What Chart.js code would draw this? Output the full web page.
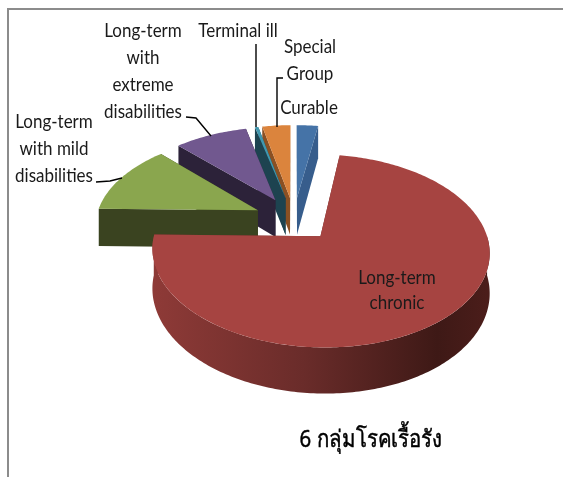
<!DOCTYPE html>
<html lang="th">
<head>
<meta charset="UTF-8">
<title>6 กลุ่มโรคเรื้อรัง</title>
<script src="https://cdn.jsdelivr.net/npm/chart.js"></script>
<style>
  html, body { margin: 0; padding: 0; background: #fff; }
  #wrap { width: 563px; height: 477px; }
</style>
</head>
<body>
<div id="wrap"><canvas id="pie" width="563" height="477"></canvas></div>
<script>
// values (share of the pie, in %)
const categories = ['Curable', 'Long-term chronic', 'Long-term with mild disabilities',
  'Long-term with extreme disabilities', 'Terminal ill', 'Special Group'];
const shares = [2.5, 72.8, 12.5, 8.5, 0.4, 3.3];
const topColors = ['#4573a7', '#a64441', '#8aa64e', '#71588f', '#4198af', '#db843d'];
const sideColors = ['#375d8c', '#6b2c2a', '#3a4320', '#2c2239', '#1d4350', '#8a5023'];
const chartTitle = '6 กลุ่มโรคเรื้อรัง';

// 3D look of the pie
const tilt = 0.55, perspective = 1100, depth = 38;
const paintOrder = [0, 5, 4, 3, 2, 1];

// text lines + leader lines
const labelFont = '20px Lato, "Liberation Sans", sans-serif';
const labelSquash = 0.85;
const labelLines = [
  { t: 'Long-term', x: 143, y: 31 }, { t: 'with', x: 143, y: 58 },
  { t: 'extreme', x: 143, y: 85 }, { t: 'disabilities', x: 143, y: 112 },
  { t: 'Terminal ill', x: 238, y: 31 },
  { t: 'Special', x: 310, y: 47 }, { t: 'Group', x: 310, y: 74 },
  { t: 'Curable', x: 309, y: 108 },
  { t: 'Long-term', x: 54, y: 122 }, { t: 'with mild', x: 54, y: 149 }, { t: 'disabilities', x: 54, y: 176 },
  { t: 'Long-term', x: 397, y: 278 }, { t: 'chronic', x: 397, y: 303 }
];
const leaders = [
  [[96, 182], [110, 181], [122, 178]],
  [[186, 117], [196, 118], [211, 136]],
  [[256, 44], [256, 127]],
  [[283, 78], [277, 78], [277, 127]]
];

function project(arc, X, Y, z) {
  const f = 1 / (1 - Y / perspective);
  return [arc.x + X * f, arc.y + (tilt * Y + z) * f];
}

// point on a slice: r along angle a, pushed out along the slice's middle
function slicePoint(arc, a, r, z) {
  const mid = (arc.startAngle + arc.endAngle) / 2;
  const off = arc.options.offset;
  return project(arc, off * Math.cos(mid) + r * Math.cos(a), off * Math.sin(mid) + r * Math.sin(a), z);
}

function fillPoly(ctx, pts, color) {
  ctx.beginPath();
  pts.forEach((p, i) => i ? ctx.lineTo(p[0], p[1]) : ctx.moveTo(p[0], p[1]));
  ctx.closePath();
  ctx.fillStyle = color;
  ctx.fill();
}

function arcPoints(arc, a0, a1, z) {
  const pts = [];
  const n = Math.max(2, Math.ceil((a1 - a0) * 60));
  for (let i = 0; i <= n; i++) {
    pts.push(slicePoint(arc, a0 + (a1 - a0) * i / n, arc.outerRadius, z));
  }
  return pts;
}

function radialWall(ctx, arc, a, color) {
  fillPoly(ctx, [slicePoint(arc, a, 0, 0), slicePoint(arc, a, arc.outerRadius, 0),
    slicePoint(arc, a, arc.outerRadius, depth), slicePoint(arc, a, 0, depth)], color);
}

function drawSlice(ctx, arc, i) {
  const s = arc.startAngle, e = arc.endAngle;
  // the top face covers whichever wall faces away
  radialWall(ctx, arc, e, sideColors[i]);
  radialWall(ctx, arc, s, sideColors[i]);

  // rim, only the part that faces the viewer
  let a0 = s, a1 = e;
  if (a0 < 0 && a1 > 0) a0 = 0;
  if (a1 > Math.PI) a1 = Math.PI;
  if (a1 > a0 && a0 >= 0) {
    const top = arcPoints(arc, a0, a1, 0);
    const bottom = arcPoints(arc, a0, a1, depth).reverse();
    let fill = sideColors[i];
    if (i === 1) {
      // rim gets darker towards the right
      const g = ctx.createLinearGradient(top[top.length - 1][0], 0, top[0][0], 0);
      g.addColorStop(0, '#8e3a37');
      g.addColorStop(0.45, '#6a2c2a');
      g.addColorStop(0.85, '#3e1916');
      g.addColorStop(1, '#4b1d1a');
      fill = g;
    }
    fillPoly(ctx, top.concat(bottom), fill);
  }

  // top face
  const face = [slicePoint(arc, 0, 0, 0)].concat(arcPoints(arc, s, e, 0));
  fillPoly(ctx, face, topColors[i]);
}

function squashedText(ctx, text, x, y, sx, heavy) {
  ctx.save();
  ctx.translate(x, y);
  ctx.scale(sx, 1);
  ctx.fillText(text, 0, 0);
  if (heavy) {
    ctx.lineWidth = heavy;
    ctx.strokeText(text, 0, 0);
  }
  ctx.restore();
}

const pie3d = {
  id: 'pie3d',
  beforeDatasetsDraw(chart) {
    const ctx = chart.ctx;
    const arcs = chart.getDatasetMeta(0).data;
    ctx.save();
    paintOrder.forEach(i => drawSlice(ctx, arcs[i], i));
    ctx.restore();
    return false;
  },
  afterDraw(chart) {
    const ctx = chart.ctx;
    ctx.save();
    // picture frame
    ctx.strokeStyle = '#8c8c8c';
    ctx.lineWidth = 2;
    ctx.beginPath();
    ctx.moveTo(8, 477); ctx.lineTo(8, 9); ctx.lineTo(563, 9);
    ctx.stroke();

    ctx.strokeStyle = '#000';
    ctx.lineWidth = 1.4;
    leaders.forEach(l => {
      ctx.beginPath();
      l.forEach((p, i) => i ? ctx.lineTo(p[0], p[1]) : ctx.moveTo(p[0], p[1]));
      ctx.stroke();
    });

    ctx.fillStyle = '#1a1a1a';
    ctx.font = labelFont;
    ctx.textAlign = 'center';
    ctx.textBaseline = 'middle';
    labelLines.forEach(l => squashedText(ctx, l.t, l.x, l.y, labelSquash));

    ctx.fillStyle = '#000';
    ctx.font = '24px "Noto Sans", "DejaVu Sans", sans-serif';
    squashedText(ctx, chartTitle, 371, 440, 0.85, 0.5);
    ctx.restore();
  }
};

new Chart(document.getElementById('pie'), {
  type: 'pie',
  data: {
    labels: categories,
    datasets: [{
      data: shares,
      backgroundColor: topColors,
      offset: 40,
      radius: 162
    }]
  },
  options: {
    responsive: false,
    animation: false,
    layout: { padding: { left: 25, bottom: 39 } },
    plugins: { legend: { display: false }, tooltip: { enabled: false } }
  },
  plugins: [pie3d]
});
</script>
</body>
</html>
